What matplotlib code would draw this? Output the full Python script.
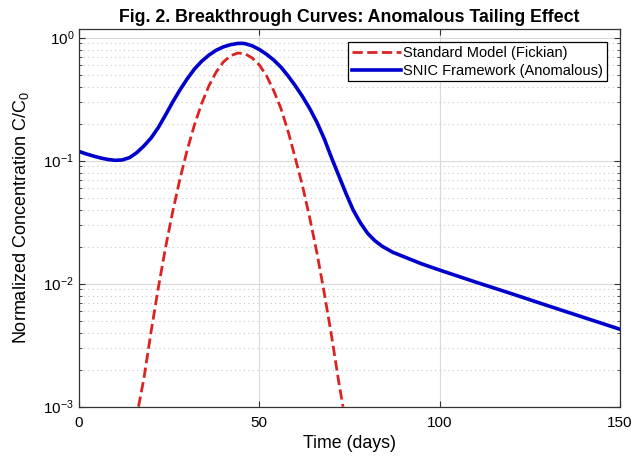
import numpy as np
import matplotlib.pyplot as plt
from matplotlib.ticker import LogLocator, NullFormatter

plt.rcParams['font.family'] = ['Liberation Sans', 'DejaVu Sans']
plt.rcParams['mathtext.fontset'] = 'custom'
plt.rcParams['mathtext.rm'] = 'Liberation Sans'
plt.rcParams['mathtext.it'] = 'Liberation Sans'

# Standard model (Fickian)
t_fick = [16.5, 18, 20, 22, 24, 26, 28, 30, 32, 34, 36, 38, 40, 42, 44,
          46, 48, 50, 52, 54, 56, 58, 60, 62, 64, 66, 68, 70, 72, 73.2]
c_fick = [0.001, 0.0017, 0.0041, 0.0093, 0.0197, 0.0388, 0.0713, 0.122,
          0.195, 0.291, 0.405, 0.524, 0.633, 0.713, 0.75,
          0.74, 0.685, 0.60, 0.49, 0.37, 0.265, 0.172, 0.104, 0.062,
          0.034, 0.0176, 0.0084, 0.0038, 0.0016, 0.001]

# SNIC framework (anomalous)
t_snic = [0, 2, 4, 6, 8, 10, 12, 14, 16, 18, 20, 22, 24, 26, 28, 30, 32,
          34, 36, 38, 40, 42, 44, 45, 46, 48, 50, 52, 54, 56, 58, 60, 62,
          64, 66, 68, 70, 72, 74, 76, 78, 80, 82, 84, 87, 90, 95, 100,
          110, 120, 130, 140, 150]
c_snic = [0.1189, 0.1135, 0.1091, 0.1052, 0.1023, 0.1007, 0.1014, 0.1059,
          0.1161, 0.1318, 0.1531, 0.1862, 0.2355, 0.3006, 0.3767, 0.4624,
          0.5559, 0.6427, 0.7211, 0.7889, 0.8414, 0.8770, 0.8974, 0.8995,
          0.8954, 0.8590, 0.8017, 0.7328, 0.6577, 0.5754, 0.4875, 0.4055,
          0.3311, 0.2642, 0.2042, 0.1507, 0.1059, 0.0759, 0.0543, 0.0398,
          0.0313, 0.0257, 0.0224, 0.0202, 0.0180, 0.0166, 0.0145, 0.0129,
          0.0103, 0.00828, 0.00662, 0.00531, 0.00426]

fig = plt.figure(figsize=(6.33, 4.62), dpi=100)
ax = fig.add_axes([0.1248, 0.1197, 0.8547, 0.8169])

ax.plot(t_fick, c_fick, '--', color='#dd2222', lw=2.0, label='Standard Model (Fickian)')
ax.plot(t_snic, c_snic, '-', color='#0000cc', lw=2.6, label='SNIC Framework (Anomalous)')

ax.set_yscale('log')
ax.set_xlim(0, 150)
ax.set_ylim(1e-3, 1.17)
ax.set_xticks([0, 50, 100, 150])
ax.yaxis.set_major_locator(LogLocator(base=10, numticks=10))
ax.yaxis.set_minor_locator(LogLocator(base=10, subs=np.arange(2, 10), numticks=10))
ax.yaxis.set_minor_formatter(NullFormatter())

ax.grid(True, which='major', color='#d9d9d9', lw=0.8, ls='-')
ax.grid(True, which='minor', axis='y', color='#c8c8c8', lw=0.8, ls=(0, (1, 3)))
ax.set_axisbelow(True)

ax.tick_params(which='both', direction='in', top=True, right=True, labelsize=11,
               color='#333333')
ax.tick_params(which='major', length=4)
ax.tick_params(which='minor', length=2.5)
ax.tick_params(axis='x', pad=7)
for s in ax.spines.values():
    s.set_color('#333333')
    s.set_linewidth(0.9)

ax.set_xlabel('Time (days)', fontsize=12.8, labelpad=3)
ax.set_ylabel('Normalized Concentration C/C$_0$', fontsize=13, labelpad=9)
ax.set_title('Fig. 2. Breakthrough Curves: Anomalous Tailing Effect',
             fontsize=12.8, fontweight='bold', pad=5)

leg = ax.legend(loc='upper right', fontsize=10.5, fancybox=False, framealpha=1,
                edgecolor='black', handlelength=3.4, handletextpad=0.15,
                borderpad=0.25, labelspacing=0.25, borderaxespad=0.9)
leg.get_frame().set_linewidth(0.9)

fig.savefig('out.png', dpi=100)
